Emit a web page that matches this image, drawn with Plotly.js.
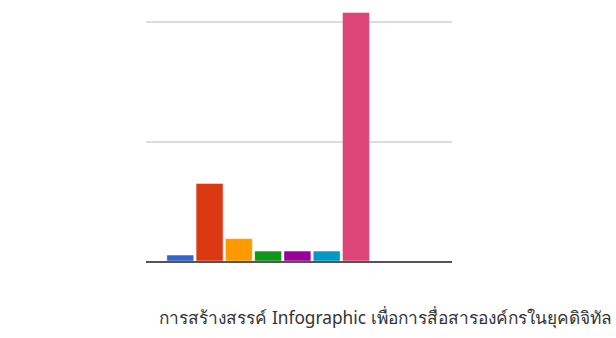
<!DOCTYPE html>
<html>
<head>
<meta charset="utf-8">
<script src="https://cdn.plot.ly/plotly-3.0.1.min.js"></script>
<style>
  html, body { margin: 0; padding: 0; background: #ffffff; }
  #chart { width: 616px; height: 338px; }
</style>
</head>
<body>
<div id="chart"></div>
<script>
// Survey answers, one bar per option
const categories = ["ตัวเลือก 1", "ตัวเลือก 2", "ตัวเลือก 3", "ตัวเลือก 4", "ตัวเลือก 5", "ตัวเลือก 6", "ตัวเลือก 7"];
const values = [0.6, 7.8, 2.25, 1, 1, 1, 25];
const barColors = ["#3366cc", "#dc3912", "#ff9900", "#109618", "#990099", "#0099c6", "#dd4477"];
const chartTitle = "การสร้างสรรค์ Infographic เพื่อการสื่อสารองค์กรในยุคดิจิทัล";

const trace = {
  type: "bar",
  x: categories,
  y: values,
  width: 0.92,
  marker: {
    color: barColors,
    line: { color: "rgba(255,255,255,0.45)", width: 1 }
  },
  hoverinfo: "x+y"
};

const layout = {
  width: 616,
  height: 338,
  margin: { l: 146, r: 164, t: 0, b: 76.5 },
  paper_bgcolor: "#ffffff",
  plot_bgcolor: "#ffffff",
  showlegend: false,
  title: {
    text: chartTitle,
    font: { family: "Noto Sans, Open Sans, sans-serif", size: 17.3, color: "#333333" },
    xref: "container",
    yref: "container",
    x: 385.5 / 616,
    xanchor: "center",
    y: (338 - 318) / 338,
    yanchor: "middle"
  },
  xaxis: {
    type: "category",
    range: [-1.171, 9.28],
    showticklabels: false,
    ticks: "",
    showgrid: false,
    zeroline: false,
    showline: true,
    linecolor: "#555555",
    linewidth: 1.6,
    fixedrange: true
  },
  yaxis: {
    range: [0, 26.26],
    dtick: 12,
    tick0: 0,
    showticklabels: false,
    ticks: "",
    showgrid: true,
    gridcolor: "#dcdcdc",
    gridwidth: 2,
    zeroline: false,
    showline: false,
    fixedrange: true
  }
};

Plotly.newPlot("chart", [trace], layout, { displayModeBar: false, staticPlot: true });
</script>
</body>
</html>
